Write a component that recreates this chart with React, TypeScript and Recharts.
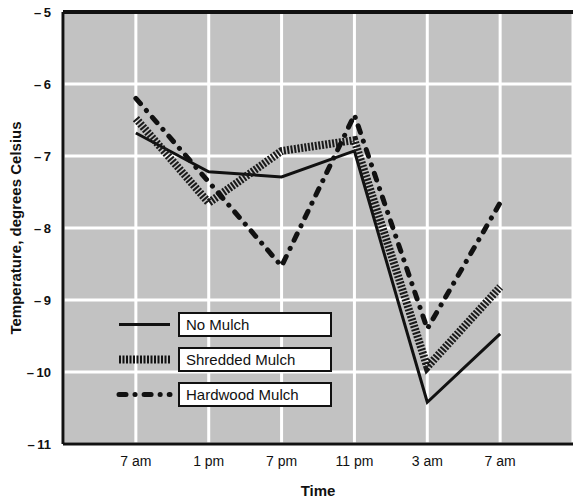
import React from 'react'
import { LineChart, Line, XAxis, YAxis, CartesianGrid, Legend, ReferenceLine } from 'recharts'

const times = ['7 am', '1 pm', '7 pm', '11 pm', '3 am', '7 am']
const noMulch = [-6.68, -7.22, -7.29, -6.93, -10.42, -9.47]
const shredded = [-6.48, -7.65, -6.93, -6.78, -9.93, -8.82]
const hardwood = [-6.2, -7.36, -8.53, -6.43, -9.4, -7.65]
const yTicks = [-11, -10, -9, -8, -7, -6, -5]
const legendOrder = ['noMulch', 'shredded', 'hardwood']

const data = times.map((t, i) => ({
  pos: i + 1,
  time: t,
  noMulch: noMulch[i],
  shredded: shredded[i],
  hardwood: hardwood[i],
}))

const font = '"Liberation Sans", Arial, sans-serif'

const lineStyles: Record<string, { width: number; dash?: string; cap?: 'round' | 'butt' }> = {
  noMulch: { width: 3 },
  shredded: { width: 8, dash: '2 1.5', cap: 'butt' },
  hardwood: { width: 5, dash: '7 9 0.1 9', cap: 'round' },
}

function LegendBoxes({ payload }: any) {
  const items = [...(payload || [])].sort(
    (a: any, b: any) => legendOrder.indexOf(a.dataKey) - legendOrder.indexOf(b.dataKey))
  return (
    <div style={{ fontFamily: font }}>
      {items.map((p: any) => {
        const s = lineStyles[p.dataKey]
        return (
          <div key={p.dataKey} style={{ display: 'flex', alignItems: 'center', height: 25, marginBottom: 10 }}>
            <svg width={62} height={25}>
              <line x1={3} x2={54} y1={12.5} y2={12.5} stroke="#111" strokeWidth={s.width}
                strokeDasharray={s.dash} strokeLinecap={s.cap} />
            </svg>
            <div style={{ width: 144, height: 21, border: '2px solid #111', background: '#fff', fontSize: 15,
              lineHeight: '21px', paddingLeft: 6, boxSizing: 'content-box', color: '#111' }}>
              {p.value}
            </div>
          </div>
        )
      })}
    </div>
  )
}

export default function App() {
  return (
    <div style={{ position: 'absolute', left: 0, top: 0, width: 573, height: 500, background: '#fff' }}>
      <LineChart width={573} height={500} data={data} margin={{ top: 12, right: 0, bottom: 0, left: 0 }}>
        <CartesianGrid fill="#c2c2c2" stroke="#fff" strokeWidth={3} />
        <XAxis type="number" dataKey="pos" domain={[0, 7]} ticks={[1, 2, 3, 4, 5, 6]}
          tickFormatter={(v: number) => times[v - 1]} height={56} tickLine={false}
          axisLine={{ stroke: '#111', strokeWidth: 3 }} tickMargin={6}
          tick={{ fontSize: 14, fill: '#111', fontFamily: font }}
          label={{ value: 'Time', position: 'insideBottom', offset: 4,
            style: { fontSize: 15, fontWeight: 'bold', fill: '#111', fontFamily: font } }} />
        <YAxis domain={[-11, -5]} ticks={yTicks} width={63} tickLine={false} tickMargin={6}
          tickFormatter={(v: number) => `\u2013\u2009${Math.abs(v)}`}
          axisLine={{ stroke: '#111', strokeWidth: 3 }}
          tick={{ fontSize: 13, fill: '#111', fontFamily: font, fontWeight: 600 }}
          label={{
            content: ({ viewBox }: any) => (
              <text x={17} y={viewBox.y + viewBox.height / 2} textAnchor="middle" dominantBaseline="middle"
                transform={`rotate(-90, 17, ${viewBox.y + viewBox.height / 2})`}
                style={{ fontSize: 15, fontWeight: 'bold', fill: '#111', fontFamily: font }}>
                Temperature, degrees Celsius
              </text>
            ),
          }} />
        <ReferenceLine y={-5} stroke="#111" strokeWidth={4} />
        <Legend content={<LegendBoxes />} layout="horizontal" verticalAlign="middle" align="center"
          wrapperStyle={{ left: 116, top: 312, width: 240 }} />
        <Line dataKey="noMulch" name="No Mulch" stroke="#111" strokeWidth={3} dot={false}
          isAnimationActive={false} />
        <Line dataKey="shredded" name="Shredded Mulch" stroke="#1a1a1a" strokeWidth={8}
          strokeDasharray="2 1.5" dot={false} isAnimationActive={false} />
        <Line dataKey="hardwood" name="Hardwood Mulch" stroke="#111" strokeWidth={5}
          strokeDasharray="7 9 0.1 9" strokeLinecap="round" dot={false} isAnimationActive={false} />
      </LineChart>
    </div>
  )
}
